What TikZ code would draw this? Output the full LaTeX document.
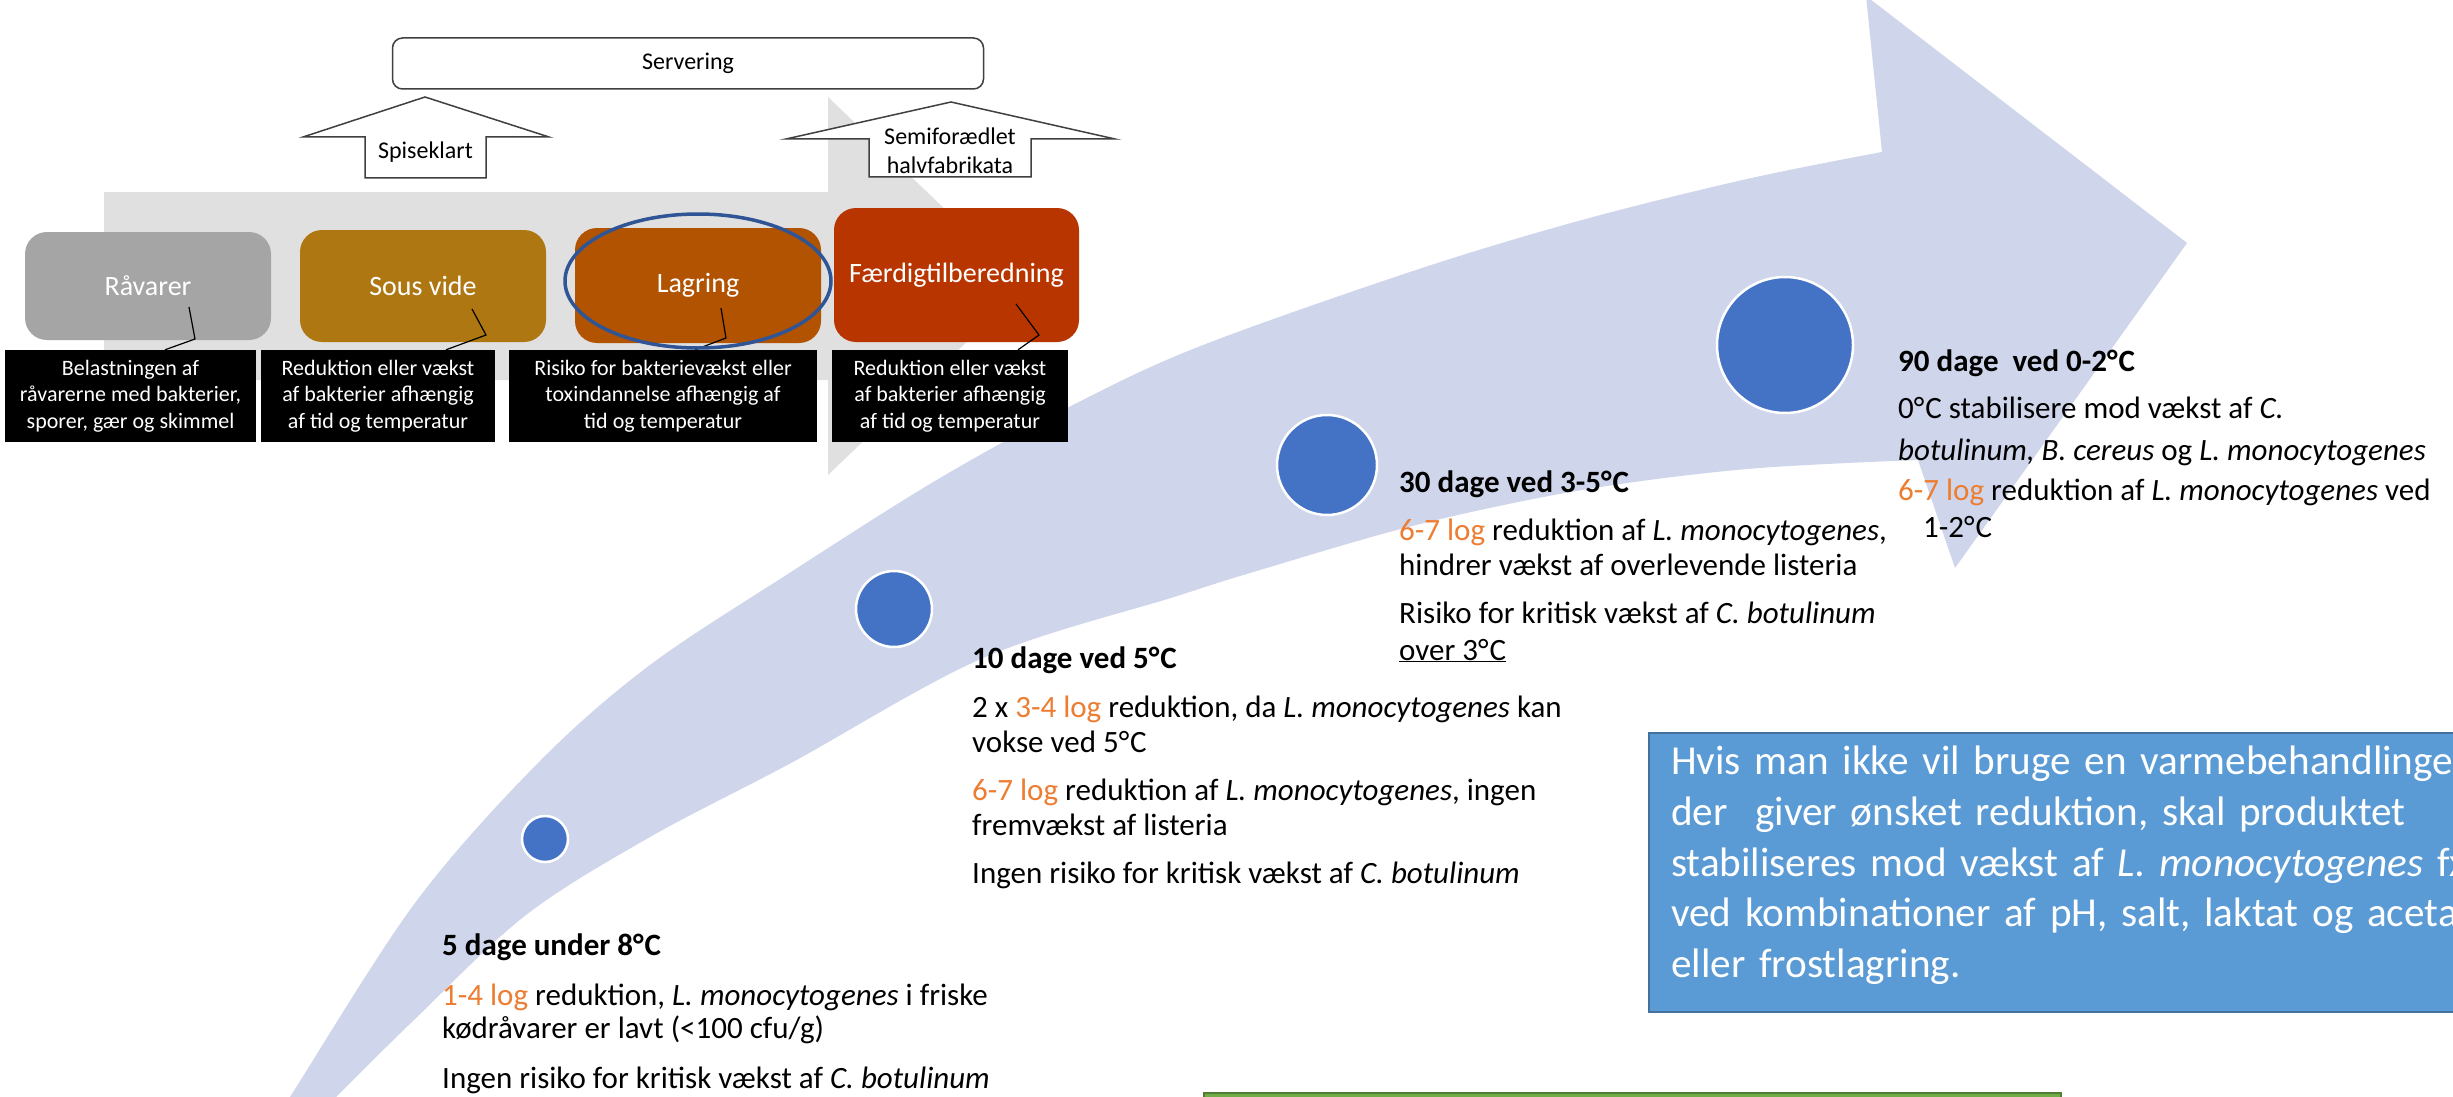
\documentclass[tikz,border=0pt]{standalone}
\usepackage{fontspec}
\setmainfont{Carlito}
\usetikzlibrary{shapes.geometric}

\definecolor{lav}{HTML}{CFD5EA}
\definecolor{bgarrow}{HTML}{E0E0E0}
\definecolor{dotblue}{HTML}{4472C4}
\definecolor{logorange}{HTML}{ED7D31}
\definecolor{rawgray}{HTML}{A5A5A5}
\definecolor{sousvide}{HTML}{AE7712}
\definecolor{storage}{HTML}{B15300}
\definecolor{finish}{HTML}{B83500}
\definecolor{ringblue}{HTML}{2F5597}
\definecolor{notebox}{HTML}{5B9BD5}
\definecolor{noteedge}{HTML}{41719C}
\definecolor{greenbox}{HTML}{70AD47}
\definecolor{greenedge}{HTML}{507E32}
\definecolor{outline}{HTML}{404040}

\newcommand\txtbody{\fontsize{31}{35}\selectfont}
\newcommand\txtnote{\fontsize{22}{26.5}\selectfont}
\newcommand\txtstage{\fontsize{28}{32}\selectfont}
\newcommand\txtlabel{\fontsize{24}{30}\selectfont}
\newcommand\txtbig{\fontsize{41.2}{50.6}\selectfont}
\newcommand\logval[1]{\textcolor{logorange}{#1}}
\newcommand\dgC{°\kern0.03em C}

\tikzset{
  line/.style={anchor=base west, inner sep=0, font=\txtbody},
  stage/.style={rounded corners=22pt, text=white, font=\txtstage, inner sep=0},
  note/.style={fill=black, text=white, font=\txtnote, align=center, inner sep=0,
    minimum height=92},
  dot/.style={circle, fill=dotblue, draw=white, line width=2.5, inner sep=0},
  uparrow/.style={fill=white, draw=outline, line width=1.5, line join=miter},
  callout/.style={draw=black, line width=1.2},
  label/.style={font=\txtlabel, inner sep=0, text=black}
}

\begin{document}
\begin{tikzpicture}[x=1pt,y=-1pt]
\useasboundingbox (0,0) rectangle (2453,1097);
\clip (0,0) rectangle (2453,1097);
\fill[white] (0,0) rectangle (2453,1097);

% curved timeline arrow
\fill[lav]
  plot[smooth, tension=0.55] coordinates {(262,1140) (290,1097) (415,903) (539,762)
     (650,665) (791,572) (935,481) (1069,407) (1198,347) (1416,270) (1582,220)
     (1747,179) (1882,152)}
  -- (1866,-4) -- (2187,243) -- (1955,568) -- (1918,460)
  -- plot[smooth, tension=0.55] coordinates {(1918,460) (1747,469) (1582,490)
     (1416,525) (1250,573) (1174,597) (983,658) (791,763) (650,837) (526,915)
     (415,1019) (336,1097) (293,1140)}
  -- cycle;

% process background arrow
\fill[bgarrow] (104,192) -- (828,192) -- (828,97) -- (1025,286) -- (828,475)
  -- (828,380) -- (104,380) -- cycle;

% storage milestones
\node[dot, minimum size=46]  (d1) at (545,839) {};
\node[dot, minimum size=76]  (d2) at (894,609) {};
\node[dot, minimum size=100] (d3) at (1327,465) {};
\node[dot, minimum size=136] (d4) at (1785,345) {};

% 5 days
\node[line] (t1h) at (442,955)  {\bfseries 5 dage under 8\dgC};
\node[line] (t1a) at (442,1005) {\logval{1-4 log} reduktion, \textit{L. monocytogenes} i friske};
\node[line] (t1b) at (442,1038) {kødråvarer er lavt (<100 cfu/g)};
\node[line] (t1c) at (442,1088) {Ingen risiko for kritisk vækst af \textit{C. botulinum}};

% 10 days
\node[line] (t2h) at (972,668) {\bfseries 10 dage ved 5\dgC};
\node[line] (t2a) at (972,717) {2 x \logval{3-4 log} reduktion, da \textit{L. monocytogenes} kan};
\node[line] (t2b) at (972,752) {vokse ved 5\dgC};
\node[line] (t2c) at (972,800) {\logval{6-7 log} reduktion af \textit{L. monocytogenes}, ingen};
\node[line] (t2d) at (972,835) {fremvækst af listeria};
\node[line] (t2e) at (972,883) {Ingen risiko for kritisk vækst af \textit{C. botulinum}};

% 30 days
\node[line] (t3h) at (1399,492) {\bfseries 30 dage ved 3-5\dgC};
\node[line] (t3a) at (1399,540) {\logval{6-7 log} reduktion af \textit{L. monocytogenes},};
\node[line] (t3b) at (1399,575) {hindrer vækst af overlevende listeria};
\node[line] (t3c) at (1399,623) {Risiko for kritisk vækst af \textit{C. botulinum}};
\node[line] (t3d) at (1399,660) {\underline{over 3\dgC}};

% 90 days
\node[line] (t4h) at (1898,371) {\bfseries 90 dage\ \ ved 0-2\dgC};
\node[line] (t4a) at (1898,418) {0\dgC{} stabilisere mod vækst af \textit{C.}};
\node[line] (t4b) at (1898,460) {\textit{botulinum, B. cereus} og \textit{L. monocytogenes}};
\node[line] (t4c) at (1898,500) {\logval{6-7 log} reduktion af \textit{L. monocytogenes} ved};
\node[line] (t4d) at (1923,537) {1-2\dgC};

% alternative to heat treatment
\fill[notebox, draw=noteedge, line width=2.5] (1649,733) rectangle (2470,1012);
\node[anchor=north west, inner sep=0, text=white, font=\txtbig, align=left,
      text width=900] (alt) at (1671,746)
  {Hvis man ikke vil bruge en varmebehandlingen\\
   der\ \ giver ønsket reduktion, skal produktet\\
   stabiliseres mod vækst af \textit{L. monocytogenes} fx\\
   ved kombinationer af pH, salt, laktat og acetat\\
   eller frostlagring.};

% lower green panel
\fill[greenbox, draw=greenedge, line width=2.5] (1204,1093) rectangle (2061,1120);

% serving and the two routes into it
\node[draw=outline, line width=1.5, rounded corners=10, fill=white,
      minimum width=591, minimum height=51, label] (serv) at (688,63.5) {Servering};

\filldraw[uparrow] (365,178) -- (365,137) -- (303,137) -- (425,97) -- (549,137)
  -- (486,137) -- (486,178) -- cycle;
\node[label] (eat) at (425.5,152) {Spiseklart};

\filldraw[uparrow] (869,177) -- (869,139) -- (786,139) -- (951,102) -- (1115,139)
  -- (1031,139) -- (1031,177) -- cycle;
\node[label] (semi1) at (950,136) {Semiforædlet};
\node[label] (semi2) at (950,165) {halvfabrikata};

% process stages
\node[stage, fill=rawgray,  minimum width=246, minimum height=108] (raw)  at (148,286)   {Råvarer};
\node[stage, fill=sousvide, minimum width=246, minimum height=112] (sv)   at (423,286)   {Sous vide};
\node[stage, fill=storage,  minimum width=246, minimum height=115] (stor) at (698,285.5) {Lagring};
\node[stage, fill=finish,   minimum width=245, minimum height=134] (fin)  at (956.5,275) {Færdigtilberedning};

% explanations
\node[note, minimum width=251] (n1) at (130.5,396) {Belastningen af\\råvarerne med bakterier,\\sporer, gær og skimmel};
\node[note, minimum width=234] (n2) at (378,396)   {Reduktion eller vækst\\af bakterier afhængig\\af tid og temperatur};
\node[note, minimum width=308] (n3) at (663,396)   {Risiko for bakterievækst eller\\toxindannelse afhængig af\\tid og temperatur};
\node[note, minimum width=236] (n4) at (950,396)   {Reduktion eller vækst\\af bakterier afhængig\\af tid og temperatur};

% callout leaders
\coordinate (k1a) at (189,307);  \coordinate (k1b) at (195,339);
\coordinate (k2a) at (472,309);  \coordinate (k2b) at (486,335);
\coordinate (k3a) at (721,308);  \coordinate (k3b) at (726,338);
\coordinate (k4a) at (1016,304); \coordinate (k4b) at (1039,335);
\draw[callout] (k1a) -- (k1b) -- (n1.north -| 165,0);
\draw[callout] (k2a) -- (k2b) -- (n2.north -| 446,0);
\draw[callout] (k3a) -- (k3b) -- (n3.north -| 695,0);
\draw[callout] (k4a) -- (k4b) -- (n4.north -| 1018,0);

% highlight on storage
\node[draw=ringblue, line width=3.5, ellipse, minimum width=266, minimum height=134,
      inner sep=0] (ring) at (698,281) {};
\end{tikzpicture}
\end{document}
